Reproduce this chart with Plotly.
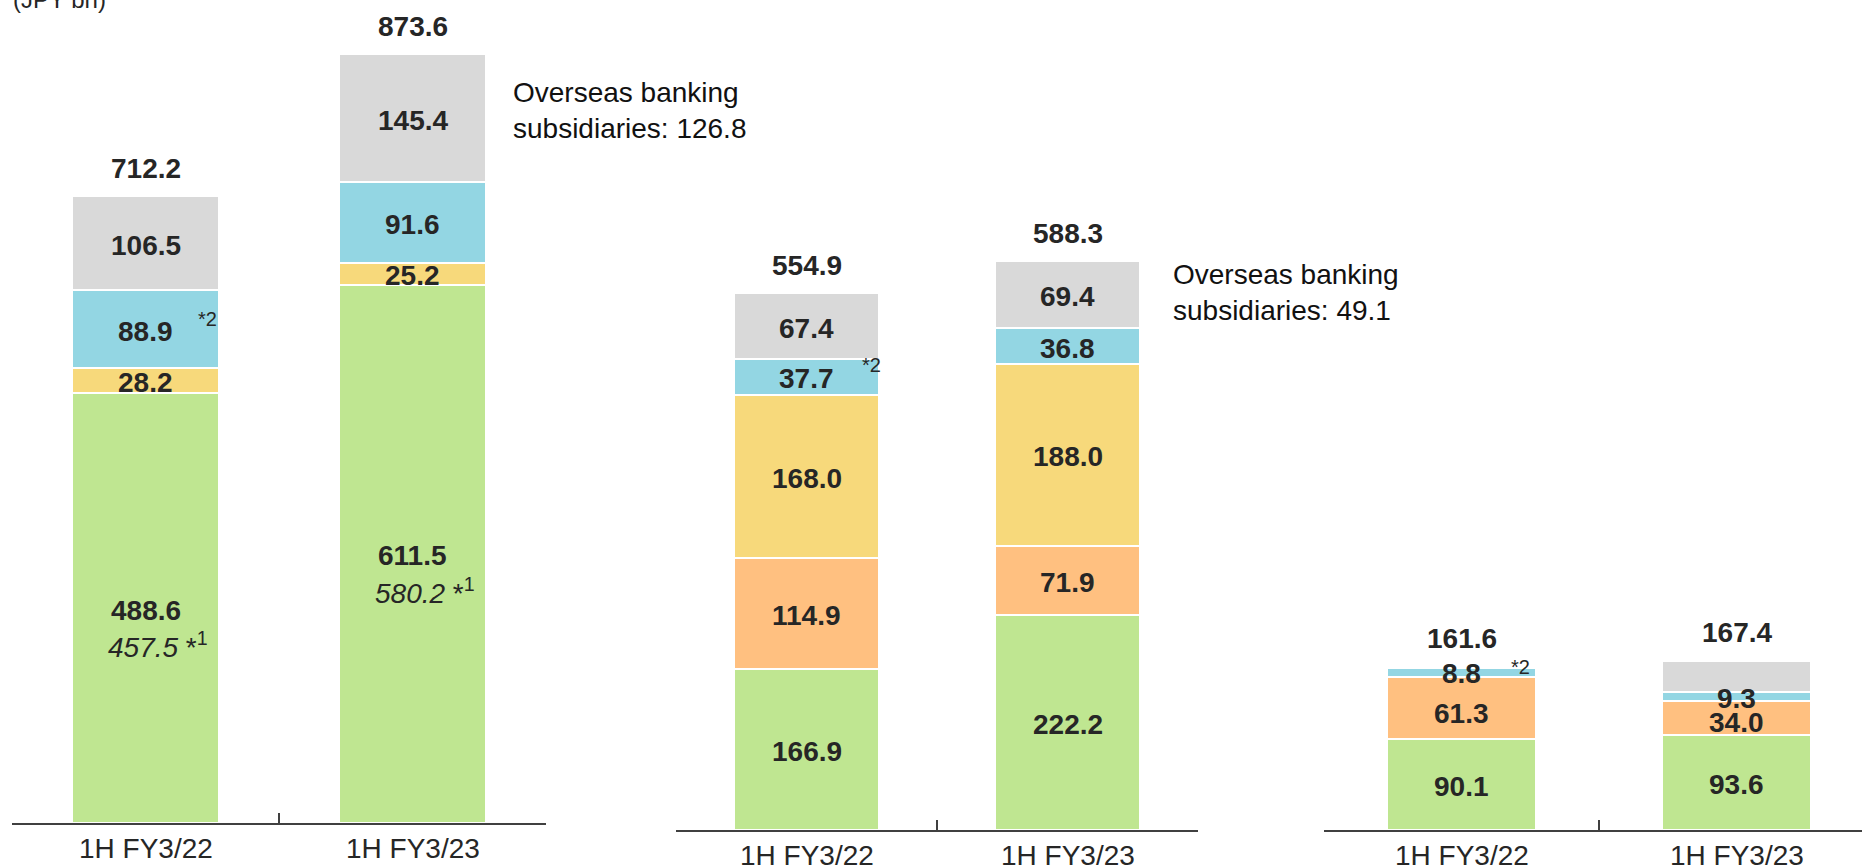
import plotly.graph_objects as go

# ---- data -------------------------------------------------------------
CATEGORIES = ["1H FY3/22", "1H FY3/23"]

# left group
g1_green = [488.6, 611.5]
g1_yellow = [28.2, 25.2]
g1_blue = [88.9, 91.6]
g1_gray = [106.5, 145.4]
g1_total = [712.2, 873.6]
g1_green_alt = [457.5, 580.2]
g1_overseas = 126.8

# middle group
g2_green = [166.9, 222.2]
g2_orange = [114.9, 71.9]
g2_yellow = [168.0, 188.0]
g2_blue = [37.7, 36.8]
g2_gray = [67.4, 69.4]
g2_total = [554.9, 588.3]
g2_overseas = 49.1

# right group
g3_green = [90.1, 93.6]
g3_orange = [61.3, 34.0]
g3_blue = [8.8, 9.3]
g3_gray = [1.4, 30.5]
g3_total = [161.6, 167.4]

# ---- styling ----------------------------------------------------------
W, H = 1862, 867
GREEN = "#BFE691"
ORANGE = "#FFC080"
YELLOW = "#F7D97B"
BLUE = "#93D6E3"
GRAY = "#D9D9D9"
TXT = "#262626"
AXIS = "#404040"
FONT = "Liberation Sans, Arial, sans-serif"
NUM = 28

# small vertical nudges (px) for labels sitting in thin segments
nudge = {(3, "blue", 0): 1, (3, "orange", 0): -3, (3, "orange", 1): -2}

groups = [
    dict(series=[("green", GREEN, g1_green, True), ("yellow", YELLOW, g1_yellow, True),
                 ("blue", BLUE, g1_blue, True), ("gray", GRAY, g1_gray, True)],
         total=g1_total, width=0.554, x0=12, x1=546, base=823, ppu=0.88),
    dict(series=[("green", GREEN, g2_green, True), ("orange", ORANGE, g2_orange, True),
                 ("yellow", YELLOW, g2_yellow, True), ("blue", BLUE, g2_blue, True),
                 ("gray", GRAY, g2_gray, True)],
         total=g2_total, width=0.552, x0=676, x1=1198, base=830, ppu=0.967),
    dict(series=[("green", GREEN, g3_green, True), ("orange", ORANGE, g3_orange, True),
                 ("blue", BLUE, g3_blue, True), ("gray", GRAY, g3_gray, False)],
         total=g3_total, width=0.542, x0=1324, x1=W, base=830, ppu=1.01, catw=275),
]

fig = go.Figure()
annotations = []
layout_axes = {}

for k, g in enumerate(groups, start=1):
    xa = "x" if k == 1 else f"x{k}"
    ya = "y" if k == 1 else f"y{k}"
    cum = [0.0] * len(CATEGORIES)
    mids = {}
    for name, color, vals, labelled in g["series"]:
        fig.add_trace(go.Bar(
            x=CATEGORIES, y=vals, name=name, xaxis=xa, yaxis=ya, width=g["width"],
            marker=dict(color=color, line=dict(color="white", width=2)),
            showlegend=False, hoverinfo="skip",
        ))
        mids[name] = []
        for i, v in enumerate(vals):
            mid = cum[i] + v / 2
            mids[name].append(mid)
            if labelled:
                annotations.append(dict(
                    x=i, y=mid, xref=xa, yref=ya, text=f"{v:.1f}", showarrow=False,
                    yanchor="middle", yshift=-2 + nudge.get((k, name, i), 0), borderpad=0,
                    font=dict(family=FONT, size=NUM, color=TXT, weight="bold")))
            cum[i] += v
    for i, t in enumerate(g["total"]):
        annotations.append(dict(
            x=i, y=t, xref=xa, yref=ya, text=f"{t:.1f}", showarrow=False,
            yanchor="middle", yshift=28, borderpad=0,
            font=dict(family=FONT, size=NUM, color=TXT, weight="bold")))
    # category labels under the axis line
    for i, c in enumerate(CATEGORIES):
        annotations.append(dict(
            x=i, y=0, xref=xa, yref=ya, text=c, showarrow=False,
            yanchor="middle", yshift=-25, borderpad=0,
            font=dict(family=FONT, size=NUM, color=TXT)))
    g["mids"] = mids
    g["xa"], g["ya"] = xa, ya

    # axes
    x0p, x1p = g["x0"] / W, min(g["x1"], W) / W
    if "catw" in g:
        xr = [-0.5, -0.5 + (g["x1"] - g["x0"]) / g["catw"]]
    else:
        xr = [-0.5, len(CATEGORIES) - 0.5]
    y0p = 1 - g["base"] / H
    yr = [0, g["base"] / g["ppu"]]
    xkey = "xaxis" if k == 1 else f"xaxis{k}"
    ykey = "yaxis" if k == 1 else f"yaxis{k}"
    layout_axes[xkey] = dict(
        type="category", domain=[x0p, x1p], range=xr, anchor=ya, automargin=False,
        ticks="inside", tickson="boundaries", ticklen=10, tickwidth=2, tickcolor=AXIS,
        showline=True, linecolor=AXIS, linewidth=2, showgrid=False, zeroline=False,
        showticklabels=False, fixedrange=True,
    )
    layout_axes[ykey] = dict(domain=[y0p, 1], range=yr, anchor=xa, visible=False,
                             automargin=False, fixedrange=True)

# footnote markers "*2" beside the blue segments
star2 = [(groups[0], 0, 0.232, 10), (groups[1], 0, 0.249, 12), (groups[2], 0, 0.215, 6)]
for g, i, dx, dy in star2:
    annotations.append(dict(
        x=i + dx, y=g["mids"]["blue"][i], xref=g["xa"], yref=g["ya"], text="*2",
        showarrow=False, yanchor="middle", yshift=dy, borderpad=0,
        font=dict(family=FONT, size=20, color=TXT)))

# italic alternative figure under the green labels of the left group
for i, v in enumerate(g1_green_alt):
    annotations.append(dict(
        x=i, y=groups[0]["mids"]["green"][i], xref="x", yref="y",
        text=f"<i>{v:.1f}</i> *<sup>1</sup>", showarrow=False,
        xanchor="left", xshift=-39, yanchor="middle", yshift=-37, borderpad=0,
        font=dict(family=FONT, size=NUM, color=TXT)))

# unit note and overseas subsidiary notes
annotations.append(dict(x=12 / W, y=1 + 0.5 / H, xref="paper", yref="paper", text="(JPY bn)",
                        showarrow=False, xanchor="left", yanchor="middle", borderpad=0,
                        font=dict(family=FONT, size=24, color=TXT)))
annotations.append(dict(x=511 / W, y=1 - 111 / H, xref="paper", yref="paper",
                        text=f"Overseas banking<br>subsidiaries: {g1_overseas:.1f}",
                        showarrow=False, xanchor="left", yanchor="middle", align="left",
                        font=dict(family=FONT, size=NUM, color="#111111")))
annotations.append(dict(x=1171 / W, y=1 - 292 / H, xref="paper", yref="paper",
                        text=f"Overseas banking<br>subsidiaries: {g2_overseas:.1f}",
                        showarrow=False, xanchor="left", yanchor="middle", align="left",
                        font=dict(family=FONT, size=NUM, color="#111111")))

fig.update_layout(
    width=W, height=H, margin=dict(l=0, r=0, t=0, b=0, autoexpand=False),
    paper_bgcolor="white", plot_bgcolor="rgba(0,0,0,0)",
    barmode="stack", bargap=0, annotations=annotations, showlegend=False,
    **layout_axes,
)

fig.write_html("out.html", config={"displayModeBar": False})
